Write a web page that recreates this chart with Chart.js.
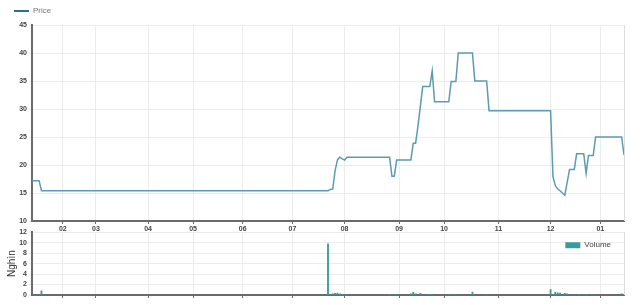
<!DOCTYPE html>
<html>
<head>
<meta charset="utf-8">
<script src="https://cdn.jsdelivr.net/npm/chart.js@4"></script>
<style>
  body { margin: 0; background: #fff; width: 640px; height: 305px; overflow: hidden; position: relative; }
  canvas { position: absolute; left: 0; }
  #priceChart { top: 0; }
  #volumeChart { top: 226px; }
</style>
</head>
<body>
<canvas id="priceChart" width="640" height="232"></canvas>
<canvas id="volumeChart" width="640" height="79"></canvas>
<script>
// trading day index of the first session of each month
const monthTicks = [13, 27, 49, 68, 89, 110, 132, 155, 174, 197, 219, 240];
const monthLabels = ['02', '03', '04', '05', '06', '07', '08', '09', '10', '11', '12', '01'];

// closing price, one value per trading day (thousand VND)
const price = [
  17.2, 17.2, 17.2, 17.2, 15.4, 15.4, 15.4, 15.4, 15.4, 15.4, 15.4, 15.4, 15.4, 15.4, 15.4, 15.4, 15.4, 15.4, 15.4, 15.4,
  15.4, 15.4, 15.4, 15.4, 15.4, 15.4, 15.4, 15.4, 15.4, 15.4, 15.4, 15.4, 15.4, 15.4, 15.4, 15.4, 15.4, 15.4, 15.4, 15.4,
  15.4, 15.4, 15.4, 15.4, 15.4, 15.4, 15.4, 15.4, 15.4, 15.4, 15.4, 15.4, 15.4, 15.4, 15.4, 15.4, 15.4, 15.4, 15.4, 15.4,
  15.4, 15.4, 15.4, 15.4, 15.4, 15.4, 15.4, 15.4, 15.4, 15.4, 15.4, 15.4, 15.4, 15.4, 15.4, 15.4, 15.4, 15.4, 15.4, 15.4,
  15.4, 15.4, 15.4, 15.4, 15.4, 15.4, 15.4, 15.4, 15.4, 15.4, 15.4, 15.4, 15.4, 15.4, 15.4, 15.4, 15.4, 15.4, 15.4, 15.4,
  15.4, 15.4, 15.4, 15.4, 15.4, 15.4, 15.4, 15.4, 15.4, 15.4, 15.4, 15.4, 15.4, 15.4, 15.4, 15.4, 15.4, 15.4, 15.4, 15.4,
  15.4, 15.4, 15.4, 15.4, 15.4, 15.4, 15.65, 15.7, 19.0, 20.9, 21.4, 21.1, 20.9, 21.4, 21.4, 21.4, 21.4, 21.4, 21.4, 21.4,
  21.4, 21.4, 21.4, 21.4, 21.4, 21.4, 21.4, 21.4, 21.4, 21.4, 21.4, 21.4, 18.0, 18.0, 20.9, 20.9, 20.9, 20.9, 20.9, 20.9,
  20.9, 23.9, 23.9, 27.0, 30.5, 34.0, 34.0, 34.0, 34.0, 36.8, 31.3, 31.3, 31.3, 31.3, 31.3, 31.3, 31.3, 34.9, 34.9, 34.9,
  40.0, 40.0, 40.0, 40.0, 40.0, 40.0, 40.0, 35.0, 35.0, 35.0, 35.0, 35.0, 35.0, 29.7, 29.7, 29.7, 29.7, 29.7, 29.7, 29.7,
  29.7, 29.7, 29.7, 29.7, 29.7, 29.7, 29.7, 29.7, 29.7, 29.7, 29.7, 29.7, 29.7, 29.7, 29.7, 29.7, 29.7, 29.7, 29.7, 29.7,
  17.9, 16.3, 15.7, 15.4, 15.0, 14.6, 16.9, 19.2, 19.2, 19.2, 22.0, 22.0, 22.0, 22.0, 18.5, 21.7, 21.7, 21.7, 25.0, 25.0,
  25.0, 25.0, 25.0, 25.0, 25.0, 25.0, 25.0, 25.0, 25.0, 25.0, 21.8
];

// sessions with traded volume (thousand shares)
const volumeDays = [4, 125, 127, 128, 129, 130, 131, 133, 151, 154, 160, 161, 162, 164, 168, 169, 176, 179, 186, 192,
  219, 221, 222, 223, 225, 226, 229, 231, 234, 237, 249];
const volumeValues = [0.8, 9.8, 0.2, 0.3, 0.35, 0.2, 0.15, 0.15, 0.15, 0.15, 0.2, 0.5, 0.2, 0.3, 0.15, 0.15, 0.1, 0.15, 0.55, 0.1,
  1.05, 0.5, 0.4, 0.35, 0.3, 0.2, 0.15, 0.15, 0.15, 0.1, 0.2];

const tickFont = { family: 'Liberation Sans', size: 7, weight: 'bold' };
const gridColor = '#ececec';
const axisColor = '#6b6b6b';

const frame = {
  id: 'frame',
  afterDraw(chart) {
    const a = chart.chartArea, c = chart.ctx;
    c.save();
    c.strokeStyle = '#dddddd';
    c.lineWidth = 1;
    c.beginPath();
    c.moveTo(a.right + 0.5, a.top);
    c.lineTo(a.right + 0.5, a.bottom);
    c.stroke();
    c.restore();
  }
};

// the volume legend sits inside the plot, top right
const legendRight = {
  id: 'legendRight',
  afterLayout(chart) {
    const lg = chart.legend;
    if (!lg || !lg.legendHitBoxes.length) return;
    const w = lg.legendHitBoxes[0].width;
    lg.left = chart.chartArea.right - w - 21;
    lg.right = lg.left + w + 16;
    lg.top = chart.chartArea.top + 1;
    lg.bottom = chart.chartArea.bottom;
  }
};

function monthAxis(showLabels) {
  return {
    type: 'linear',
    min: 0,
    max: price.length - 1,
    offset: false,
    afterBuildTicks: s => { s.ticks = monthTicks.map(v => ({ value: v })); },
    afterFit: s => { s.height = showLabels ? 11 : 0; },
    grid: { color: gridColor, tickColor: axisColor, tickLength: 3, offset: false },
    border: { color: axisColor, width: 2 },
    ticks: {
      display: showLabels,
      autoSkip: false,
      maxRotation: 0,
      padding: 1,
      font: tickFont,
      color: '#444',
      callback: v => monthLabels[monthTicks.indexOf(v)]
    }
  };
}

new Chart(document.getElementById('priceChart'), {
  type: 'line',
  data: {
    datasets: [{
      label: 'Price',
      data: price.map((p, i) => ({ x: i, y: p })),
      borderColor: '#5b9cb2',
      borderWidth: 1.5,
      pointRadius: 0,
      tension: 0
    }]
  },
  options: {
    responsive: false,
    animation: false,
    layout: { padding: { left: 6, right: 16, top: -1, bottom: 0 } },
    plugins: {
      legend: {
        align: 'start',
        labels: {
          boxWidth: 15,
          boxHeight: 2,
          padding: 8,
          font: { family: 'Liberation Sans', size: 8 },
          color: '#777',
          generateLabels: c => Chart.defaults.plugins.legend.labels.generateLabels(c)
            .map(l => ({ ...l, fillStyle: '#2c6f8e', strokeStyle: '#2c6f8e', lineWidth: 0 }))
        }
      },
      tooltip: { enabled: false }
    },
    scales: {
      x: monthAxis(true),
      y: {
        min: 10,
        max: 45,
        afterFit: s => { s.width = 26; },
        grid: { color: gridColor, tickLength: 3 },
        border: { color: axisColor, width: 2 },
        ticks: { stepSize: 5, autoSkip: false, padding: 2, font: tickFont, color: '#444' }
      }
    }
  },
  plugins: [frame]
});

new Chart(document.getElementById('volumeChart'), {
  type: 'bar',
  data: {
    datasets: [{
      label: 'Volume',
      data: volumeDays.map((d, i) => ({ x: d, y: volumeValues[i] })),
      backgroundColor: '#3a9c9a',
      borderWidth: 0,
      barThickness: 1.2
    }]
  },
  options: {
    responsive: false,
    animation: false,
    layout: { padding: { left: 6, right: 16, top: 6, bottom: 10 } },
    plugins: {
      legend: {
        position: 'chartArea',
        align: 'start',
        labels: {
          boxWidth: 15,
          boxHeight: 6,
          padding: 8,
          font: { family: 'Liberation Sans', size: 8 },
          color: '#444'
        }
      },
      tooltip: { enabled: false }
    },
    scales: {
      x: monthAxis(false),
      y: {
        min: 0,
        max: 12,
        afterFit: s => { s.width = 26; },
        title: { display: true, text: 'Nghìn', font: { family: 'Liberation Sans', size: 10 }, color: '#333', padding: 0 },
        grid: { color: gridColor, tickLength: 3 },
        border: { color: axisColor, width: 2 },
        ticks: { stepSize: 2, autoSkip: false, padding: 2, font: tickFont, color: '#444' }
      }
    }
  },
  plugins: [frame, legendRight]
});
</script>
</body>
</html>
